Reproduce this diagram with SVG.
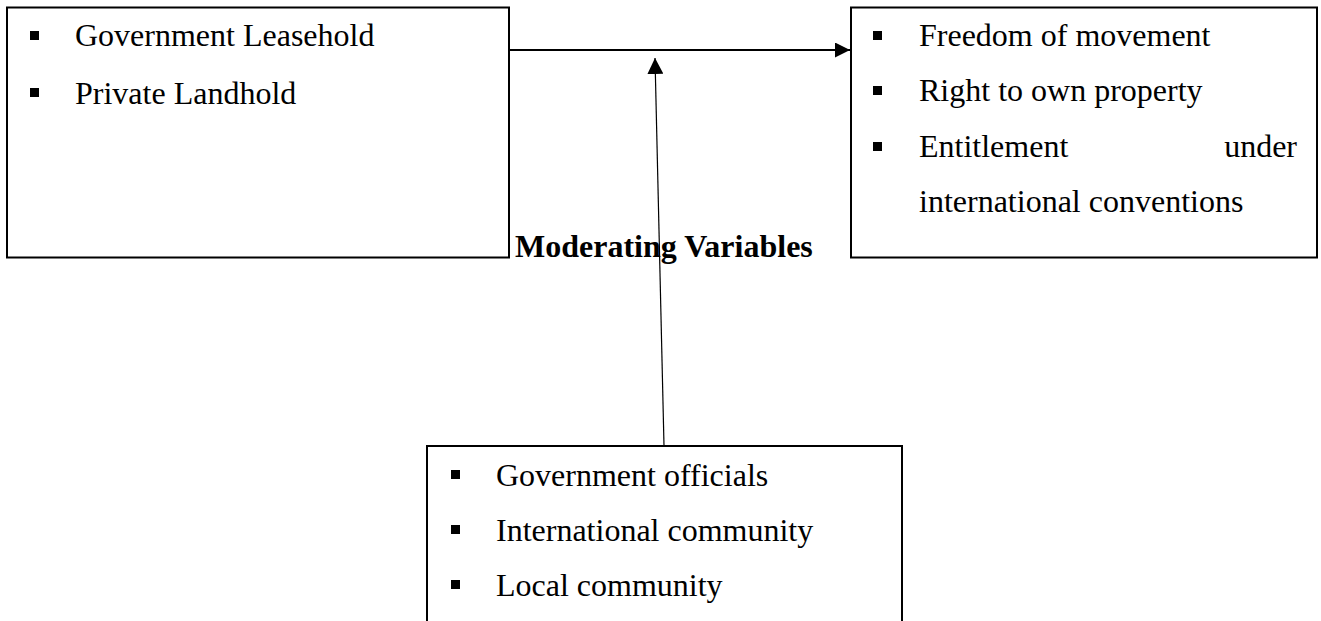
<svg xmlns="http://www.w3.org/2000/svg" width="1321" height="621" viewBox="0 0 1321 621">
<defs>
<style>
.box{fill:#fff;stroke:#000;stroke-width:2}
.t{font-family:"Liberation Serif","Times New Roman",serif;font-size:32px;fill:#000}
.b{font-family:"Liberation Serif","Times New Roman",serif;font-size:32px;font-weight:bold;fill:#000}
.blt{fill:#000}
.ln{stroke:#000;fill:none}
</style>
<marker id="ah" viewBox="0 0 10 10" refX="10" refY="5" markerWidth="15" markerHeight="15" markerUnits="userSpaceOnUse" orient="auto">
<path d="M0,0 L10,5 L0,10 Z" fill="#000"/>
</marker>
<marker id="ah2" viewBox="0 0 10 10" refX="10" refY="5" markerWidth="16" markerHeight="16" markerUnits="userSpaceOnUse" orient="auto">
<path d="M0,0 L10,5 L0,10 Z" fill="#000"/>
</marker>
</defs>
<rect width="1321" height="621" fill="#fff"/>
<g id="independent">
<rect class="box" x="7" y="7.5" width="502" height="250"/>
<rect class="blt" x="30" y="31" width="9" height="9"/>
<text class="t" x="75" y="46">Government Leasehold</text>
<rect class="blt" x="30" y="88" width="9" height="9"/>
<text class="t" x="75" y="104">Private Landhold</text>
</g>
<g id="dependent">
<rect class="box" x="851" y="7.5" width="466" height="250"/>
<rect class="blt" x="873" y="31" width="9" height="9"/>
<text class="t" x="919" y="46">Freedom of movement</text>
<rect class="blt" x="873" y="86" width="9" height="9"/>
<text class="t" x="919" y="101">Right to own property</text>
<rect class="blt" x="873" y="142" width="9" height="9"/>
<text class="t" x="919" y="157">Entitlement</text>
<text class="t" x="1297" y="157" text-anchor="end">under</text>
<text class="t" x="919" y="212">international conventions</text>
</g>
<g id="moderating">
<rect class="box" x="427" y="446" width="475" height="200"/>
<rect class="blt" x="451" y="470" width="9" height="9"/>
<text class="t" x="496" y="486">Government officials</text>
<rect class="blt" x="451" y="525" width="9" height="9"/>
<text class="t" x="496" y="541">International community</text>
<rect class="blt" x="451" y="580" width="9" height="9"/>
<text class="t" x="496" y="596">Local community</text>
</g>
<g id="label">
<text class="b" x="515" y="257">Moderating Variables</text>
</g>
<g id="connectors">
<line class="ln" x1="509" y1="50" x2="850" y2="50" stroke-width="2" marker-end="url(#ah)"/>
<line class="ln" x1="664" y1="446" x2="655" y2="58" stroke-width="1.2" marker-end="url(#ah2)"/>
</g>
</svg>
